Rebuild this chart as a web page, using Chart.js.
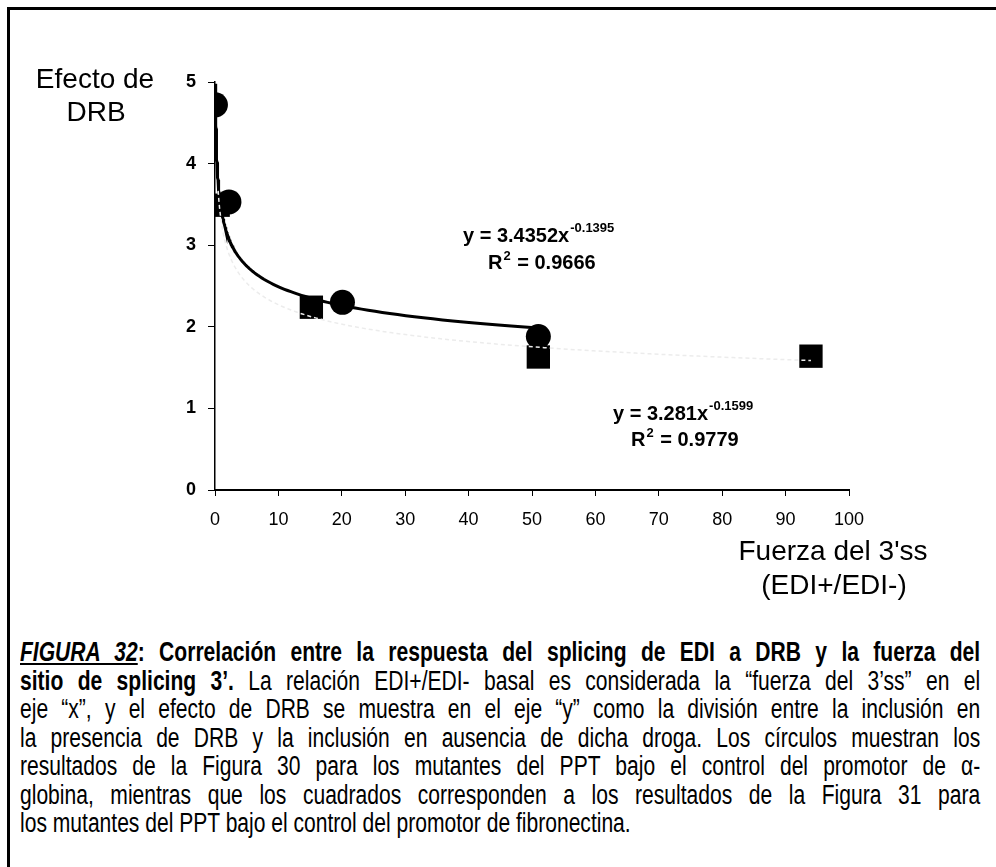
<!DOCTYPE html>
<html lang="es">
<head>
<meta charset="utf-8">
<title>Figura 32</title>
<script src="https://cdn.jsdelivr.net/npm/chart.js@4.4.1/dist/chart.umd.min.js"></script>
<style>
  html, body { margin: 0; padding: 0; background: #fff; }
  body { width: 996px; height: 867px; position: relative; overflow: hidden; font-family: 'Liberation Sans', Arial, sans-serif; }
  #marco { position: absolute; left: 7px; top: 7px; right: 0; bottom: 0; border-left: 3px solid #000; border-top: 3px solid #000; }
  #grafico { position: absolute; left: 0; top: 0; }
  /* texto condensado: Liberation Sans comprimida horizontalmente */
  #leyenda { position: absolute; left: 20px; top: 638px; width: 1231px; color: #000;
             transform: scaleX(0.78); transform-origin: 0 0;
             font-family: 'Liberation Sans', Arial, sans-serif; font-size: 27px; line-height: 28.5px; }
  #leyenda .l { display: block; white-space: nowrap; text-align: justify; text-align-last: justify; }
  #leyenda .ultima { text-align-last: left; }
  #leyenda .fig { font-weight: bold; font-style: italic; text-decoration: underline; }
</style>
</head>
<body>
<div id="marco"></div>
<canvas id="grafico" width="996" height="620"></canvas>
<div id="leyenda">
  <span class="l"><span class="fig">FIGURA 32</span><b>: Correlación entre la respuesta del splicing de EDI a DRB y la fuerza del</b></span>
  <span class="l"><b>sitio de splicing 3’.</b> La relación EDI+/EDI- basal es considerada la “fuerza del 3’ss” en el</span>
  <span class="l">eje “x”, y el efecto de DRB se muestra en el eje “y” como la división entre la inclusión en</span>
  <span class="l">la presencia de DRB y la inclusión en ausencia de dicha droga. Los círculos muestran los</span>
  <span class="l">resultados de la Figura 30 para los mutantes del PPT bajo el control del promotor de α-</span>
  <span class="l">globina, mientras que los cuadrados corresponden a los resultados de la Figura 31 para</span>
  <span class="l ultima">los mutantes del PPT bajo el control del promotor de fibronectina.</span>
</div>
<script>
// Datos: fuerza del 3'ss (EDI+/EDI-) vs. efecto de DRB
const circulosX = [0.07, 2.2, 20.1, 51];     // promotor de α-globina (Figura 30)
const circulosY = [4.72, 3.53, 2.30, 1.88];
const cuadradosX = [0.5, 15.2, 51, 94];      // promotor de fibronectina (Figura 31)
const cuadradosY = [3.49, 2.24, 1.63, 1.64];
const ticksX = [0, 10, 20, 30, 40, 50, 60, 70, 80, 90, 100];
const ticksY = [0, 1, 2, 3, 4, 5];

// Ajustes potenciales y = a·x^b
const ajusteCirculos = { a: 3.4352, b: -0.1395, r2: '0.9666' };
const ajusteCuadrados = { a: 3.281, b: -0.1599, r2: '0.9779' };

const FUENTE = '"Liberation Sans", Arial, sans-serif';

function puntos(xs, ys) {
    return xs.map((x, i) => ({ x: x, y: ys[i] }));
}

// Curva de tendencia entre el menor y el mayor x de la serie
function curvaPotencia(aj, xs) {
    const x0 = Math.min(...xs), x1 = Math.max(...xs);
    const pts = [];
    for (let i = 0; i <= 150; i++) {
        const x = x0 * Math.pow(x1 / x0, i / 150);
        pts.push({ x: x, y: aj.a * Math.pow(x, aj.b) });
    }
    return pts;
}

// Escribe la ecuación con exponente y el R² debajo
function ecuacion(ctx, x, y, xR, yR, aj) {
    ctx.textAlign = 'left';
    ctx.font = 'bold 20px ' + FUENTE;
    const t1 = 'y = ' + aj.a + 'x';
    ctx.fillText(t1, x, y);
    const w1 = ctx.measureText(t1).width;
    ctx.font = 'bold 13px ' + FUENTE;
    ctx.fillText(String(aj.b), x + w1 + 1, y - 10);

    ctx.font = 'bold 20px ' + FUENTE;
    ctx.fillText('R', xR, yR);
    const wR = ctx.measureText('R').width;
    ctx.font = 'bold 13px ' + FUENTE;
    ctx.fillText('2', xR + wR + 1, yR - 9);
    const w2 = ctx.measureText('2').width;
    ctx.font = 'bold 20px ' + FUENTE;
    ctx.fillText(' = ' + aj.r2, xR + wR + w2 + 2, yR);
}

// Títulos de los ejes y ecuaciones de los ajustes
const textos = {
    id: 'textos',
    afterDraw(chart) {
        const ctx = chart.ctx;
        ctx.save();
        ctx.fillStyle = '#000';
        ctx.textBaseline = 'alphabetic';
        ctx.textAlign = 'center';
        ctx.font = '28px ' + FUENTE;
        ctx.fillText('Efecto de', 95, 88);
        ctx.fillText('DRB', 96, 121);
        ctx.fillText('Fuerza del 3\'ss', 833, 560);
        ctx.fillText('(EDI+/EDI-)', 834, 594);

        ecuacion(ctx, 463, 242, 488, 269, ajusteCirculos);
        ecuacion(ctx, 613, 420, 631, 446, ajusteCuadrados);
        ctx.restore();
    }
};

const ctx = document.getElementById('grafico').getContext('2d');
const grafico = new Chart(ctx, {
    type: 'scatter',
    data: {
        datasets: [
            {
                label: 'Ajuste cuadrados',
                data: curvaPotencia(ajusteCuadrados, cuadradosX),
                showLine: true,
                borderColor: '#ececec',
                borderWidth: 1.5,
                borderDash: [4, 3],
                pointRadius: 0
            },
            {
                label: 'Ajuste círculos',
                data: curvaPotencia(ajusteCirculos, circulosX),
                showLine: true,
                borderColor: '#000',
                borderWidth: 3,
                pointRadius: 0
            },
            {
                label: 'Círculos',
                data: puntos(circulosX, circulosY),
                pointStyle: 'circle',
                pointRadius: 12.5,
                backgroundColor: '#000',
                borderColor: '#000',
                borderWidth: 0
            },
            {
                label: 'Cuadrados',
                data: puntos(cuadradosX, cuadradosY),
                pointStyle: 'rect',
                pointRadius: 16.5,
                backgroundColor: '#000',
                borderColor: '#000',
                borderWidth: 0
            }
        ]
    },
    options: {
        responsive: false,
        animation: false,
        devicePixelRatio: 1,
        layout: { padding: { left: 150, right: 147, top: 82, bottom: 80 } },
        plugins: {
            legend: { display: false },
            tooltip: { enabled: false }
        },
        scales: {
            x: {
                type: 'linear',
                min: 0,
                max: 100,
                afterBuildTicks: scale => { scale.ticks = ticksX.map(v => ({ value: v })); },
                afterFit: scale => { scale.height = 50; },
                ticks: { color: '#000', padding: 13, maxRotation: 0, font: { family: FUENTE, size: 18 } },
                grid: { drawOnChartArea: false, drawTicks: true, tickLength: 6, color: '#000', lineWidth: 1 },
                border: { display: true, color: '#000', width: 2 }
            },
            y: {
                type: 'linear',
                min: 0,
                max: 5,
                afterBuildTicks: scale => { scale.ticks = ticksY.map(v => ({ value: v })); },
                afterFit: scale => { scale.width = 65; },
                ticks: { color: '#000', padding: 12, font: { family: FUENTE, size: 18, weight: 'bold' } },
                grid: { drawOnChartArea: false, drawTicks: true, tickLength: 7, color: '#000', lineWidth: 1 },
                border: { display: true, color: '#000', width: 1.5 }
            }
        }
    },
    plugins: [textos]
});
</script>
</body>
</html>
